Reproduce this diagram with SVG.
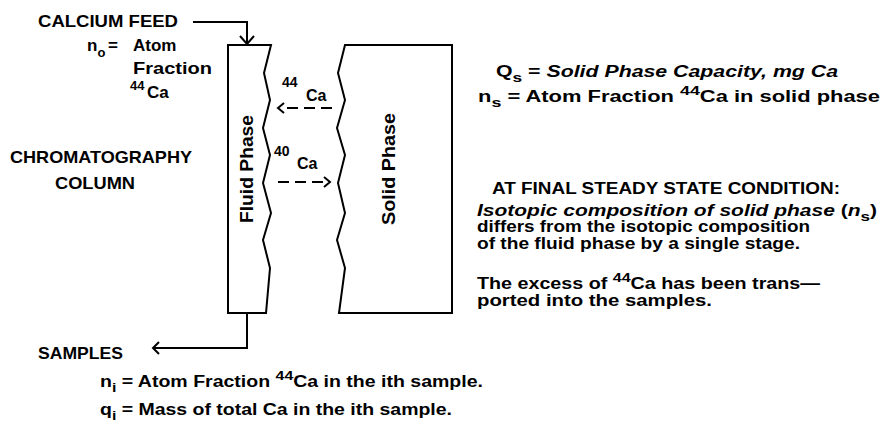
<svg xmlns="http://www.w3.org/2000/svg" width="883" height="424" viewBox="0 0 883 424">
<defs>
<style>
.t{font-family:"Liberation Sans",Arial,sans-serif;font-weight:bold;font-size:17px;fill:#000}
.p{font-size:16px}
.sm{font-size:13px}
.lb{font-size:18px}
.it{font-style:italic}
.ln{fill:none;stroke:#000;stroke-width:2;stroke-linejoin:miter}
.ds{fill:none;stroke:#000;stroke-width:2;stroke-dasharray:11 6}
</style>
</defs>
<rect width="883" height="424" fill="#fff"/>

<g id="fluid-phase">
<path class="ln" d="M228,45 H271 L264,73 L270,100 L263,128 L270,155 L263,183 L271,213 L263,240 L270,268 L266,313 H228 Z"/>
<text class="t lb" transform="translate(253,169) rotate(-90)" text-anchor="middle" textLength="108" lengthAdjust="spacingAndGlyphs">Fluid Phase</text>
</g>

<g id="solid-phase">
<path class="ln" d="M452,45 H345 L338,73 L345,100 L337,128 L345,155 L338,183 L345,213 L337,240 L345,268 L339,313 H452 Z"/>
<text class="t lb" transform="translate(395,169) rotate(-90)" text-anchor="middle" textLength="112" lengthAdjust="spacingAndGlyphs">Solid Phase</text>
</g>

<g id="feed">
<text class="t" x="38" y="27" textLength="140" lengthAdjust="spacingAndGlyphs">CALCIUM FEED</text>
<text class="t" x="87" y="51">n<tspan class="sm" dy="6">o</tspan></text>
<text class="t" x="108" y="51">=</text>
<text class="t" x="133" y="51">Atom</text>
<text class="t" x="133" y="74" textLength="79" lengthAdjust="spacingAndGlyphs">Fraction</text>
<text class="t" x="130" y="90"><tspan class="sm" font-size="14">44</tspan><tspan x="147" dy="8">Ca</tspan></text>
</g>

<g id="column-label">
<text class="t" x="10" y="163" textLength="182" lengthAdjust="spacingAndGlyphs">CHROMATOGRAPHY</text>
<text class="t" x="55" y="189" textLength="80" lengthAdjust="spacingAndGlyphs">COLUMN</text>
</g>

<g id="exchange">
<text class="t" x="282" y="87"><tspan font-size="14">44</tspan><tspan x="306" dy="14" font-size="16">Ca</tspan></text>
<text class="t" x="274" y="156"><tspan font-size="14">40</tspan><tspan x="297" dy="13" font-size="16">Ca</tspan></text>
</g>

<g id="samples">
<text class="t" x="38" y="359" textLength="85" lengthAdjust="spacingAndGlyphs">SAMPLES</text>
<text class="t p" x="100" y="387" textLength="383" lengthAdjust="spacingAndGlyphs">n<tspan class="sm" dy="5">i</tspan><tspan dy="-5"> = Atom Fraction </tspan><tspan class="sm" dy="-7">44</tspan><tspan dy="7">Ca in the ith sample.</tspan></text>
<text class="t p" x="100" y="415" textLength="352" lengthAdjust="spacingAndGlyphs">q<tspan class="sm" dy="5">i</tspan><tspan dy="-5"> = Mass of total Ca in the ith sample.</tspan></text>
</g>

<g id="notes">
<text class="t p" x="496" y="77" textLength="342" lengthAdjust="spacingAndGlyphs">Q<tspan class="sm" dy="5">s</tspan><tspan dy="-5"> = </tspan><tspan class="it">Solid Phase Capacity, mg Ca</tspan></text>
<text class="t p" x="478" y="102" textLength="402" lengthAdjust="spacingAndGlyphs">n<tspan class="sm" dy="5">s</tspan><tspan dy="-5"> = Atom Fraction </tspan><tspan class="sm" dy="-7">44</tspan><tspan dy="7">Ca in solid phase</tspan></text>
<text class="t p" x="492" y="194" textLength="348" lengthAdjust="spacingAndGlyphs">AT FINAL STEADY STATE CONDITION:</text>
<text class="t p" x="477" y="216" textLength="400" lengthAdjust="spacingAndGlyphs"><tspan class="it">Isotopic composition of solid phase </tspan>(<tspan class="it">n</tspan><tspan class="sm" dy="5">s</tspan><tspan dy="-5">)</tspan></text>
<text class="t p" x="477" y="232" textLength="333" lengthAdjust="spacingAndGlyphs">differs from the isotopic composition</text>
<text class="t p" x="477" y="249" textLength="323" lengthAdjust="spacingAndGlyphs">of the fluid phase by a single stage.</text>
<text class="t p" x="477" y="289" textLength="343" lengthAdjust="spacingAndGlyphs">The excess of <tspan class="sm" dy="-7">44</tspan><tspan dy="7">Ca has been trans—</tspan></text>
<text class="t p" x="477" y="306" textLength="235" lengthAdjust="spacingAndGlyphs">ported into the samples.</text>
</g>

<g id="connectors">
<path class="ln" d="M193,22 H247 V44"/>
<polyline class="ln" points="240,36 247,44 254,36"/>
<path class="ln" d="M247,313 V348 H153"/>
<polyline class="ln" points="159,342 153,348 159,354"/>
<line class="ds" x1="332" y1="108" x2="284" y2="108"/>
<polyline class="ln" points="284,103 278,108 284,113"/>
<line class="ds" x1="278" y1="182" x2="324" y2="182"/>
<polyline class="ln" points="324,177 330,182 324,187"/>
</g>
</svg>
